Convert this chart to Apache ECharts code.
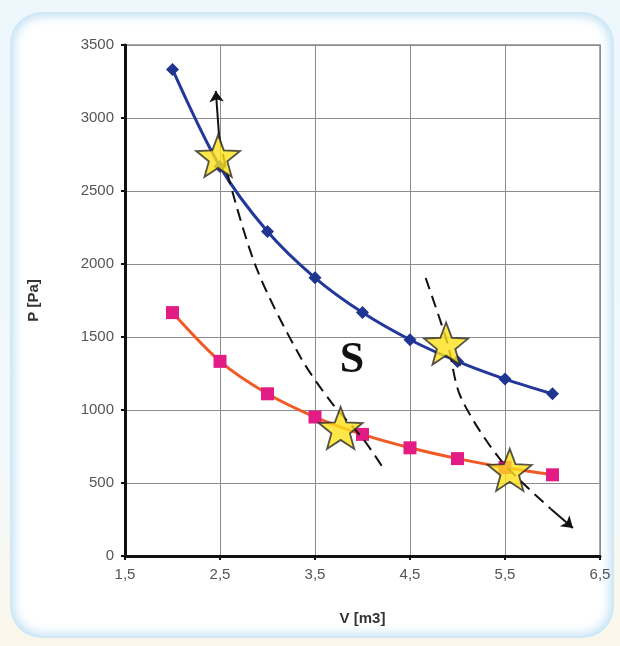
<!DOCTYPE html>
<html>
<head>
<meta charset="utf-8">
<script src="https://cdn.jsdelivr.net/npm/echarts@6/dist/echarts.min.js"></script>
<style>
  html, body { margin: 0; padding: 0; }
  body { width: 620px; height: 646px; position: relative; overflow: hidden;
         background: linear-gradient(180deg, #eef7fc 0%, #f2f8fb 70%, #fbf6ea 100%); }
  #panel { position: absolute; left: 10px; top: 12px; width: 604px; height: 626px;
           border-radius: 32px; background: #ffffff;
           box-shadow: inset 0 0 12px 3px #b5dcf2; }
  #chart { position: absolute; left: 0; top: 0; width: 620px; height: 646px; }
</style>
</head>
<body>
<div id="panel"></div>
<div id="chart"></div>
<script>
// ---- data ----
const volumes = [2, 2.5, 3, 3.5, 4, 4.5, 5, 5.5, 6];
const pressureHigh = [3333, 2667, 2222, 1905, 1667, 1481, 1333, 1212, 1111];
const pressureLow = [1667, 1333, 1111, 952, 833, 741, 667, 606, 556];
const starPoints = [[2.48, 2740], [3.77, 877], [4.88, 1455], [5.55, 590]];
const dashedCurve1 = [[2.49, 2880], [2.587, 2596], [2.892, 1959], [3.346, 1363],
                      [3.68, 1046], [4.014, 795], [4.208, 612]];
const dashedCurve2 = [[4.665, 1904], [4.894, 1459], [5.034, 1089], [5.456, 657], [5.983, 322]];
const arrowTop = [[2.49, 2880], [2.456, 3185]];
const arrowBottom = [[5.983, 322], [6.215, 192]];
const xTicks = ['1,5', '2,5', '3,5', '4,5', '5,5', '6,5'];
const annotationText = 'S';

const starPath = 'path://M50,0 L62.5,33 L97.55,34.55 L70,57 L79.39,90.45 L50,71 L20.61,90.45 L30,57 L2.45,34.55 L37.5,33 Z';

const chart = echarts.init(document.getElementById('chart'), null, { renderer: 'canvas' });

const labelFont = { color: '#555', fontSize: 15, fontFamily: 'Liberation Sans, Arial, sans-serif' };
const nameFont = { color: '#333', fontSize: 15, fontWeight: 'bold', fontFamily: 'Liberation Sans, Arial, sans-serif' };

chart.setOption({
  backgroundColor: 'transparent',
  animation: false,
  grid: { left: 125, right: 20, top: 45, bottom: 90, show: true, borderColor: '#8c8c8c', borderWidth: 1.5, backgroundColor: 'transparent' },
  xAxis: {
    type: 'value', min: 1.5, max: 6.5, interval: 1,
    name: 'V [m3]', nameLocation: 'middle', nameGap: 55,
    nameTextStyle: nameFont,
    axisLine: { lineStyle: { color: '#111', width: 3 } },
    axisTick: { show: true, length: 4, lineStyle: { color: '#111', width: 2 } },
    axisLabel: Object.assign({ margin: 11, formatter: function (v) { const i = Math.round(v - 1.5); return xTicks[i] !== undefined ? xTicks[i] : ''; } }, labelFont),
    splitLine: { show: true, lineStyle: { color: '#8c8c8c', width: 1 } }
  },
  yAxis: {
    type: 'value', min: 0, max: 3500, interval: 500,
    name: 'P [Pa]', nameLocation: 'middle', nameGap: 84, nameRotate: 90,
    nameTextStyle: nameFont,
    axisLine: { show: true, lineStyle: { color: '#111', width: 3 } },
    axisTick: { show: true, length: 4, lineStyle: { color: '#111', width: 2 } },
    axisLabel: Object.assign({ margin: 11, formatter: function (v) { return String(v); } }, labelFont),
    splitLine: { show: true, lineStyle: { color: '#8c8c8c', width: 1 } }
  },
  series: [
    {
      type: 'line', name: 'high', smooth: 0.3,
      data: volumes.map((v, i) => [v, pressureHigh[i]]),
      symbol: 'diamond', symbolSize: 13,
      itemStyle: { color: '#1f3590' },
      lineStyle: { color: '#23399a', width: 3 }, z: 3
    },
    {
      type: 'line', name: 'low', smooth: 0.3,
      data: volumes.map((v, i) => [v, pressureLow[i]]),
      symbol: 'rect', symbolSize: 13,
      itemStyle: { color: '#e31b84' },
      lineStyle: { color: '#f15a24', width: 3 }, z: 3
    },
    {
      type: 'line', smooth: 0.3, data: dashedCurve1, showSymbol: false, symbol: 'none',
      lineStyle: { color: '#111', width: 2, type: [12, 7] }, z: 4
    },
    {
      type: 'line', smooth: 0.3, data: dashedCurve2, showSymbol: false, symbol: 'none',
      lineStyle: { color: '#111', width: 2, type: [12, 7] }, z: 4
    },
    {
      type: 'lines', coordinateSystem: 'cartesian2d',
      symbol: ['none', 'arrow'], symbolSize: 11,
      lineStyle: { color: '#111', width: 2, opacity: 1 },
      data: [{ coords: arrowTop }, { coords: arrowBottom }], z: 5
    },
    {
      type: 'scatter', data: starPoints, symbol: starPath, symbolSize: [44, 42],
      itemStyle: { color: '#ffe11a', borderColor: '#2b2b2b', borderWidth: 1.8 }, z: 6
    }
  ],
  graphic: [
    { type: 'text', x: 352, y: 361, z: 10,
      style: { text: annotationText, fill: '#111', align: 'center', verticalAlign: 'middle',
               font: 'bold 44px "Liberation Serif", "DejaVu Serif", serif' } }
  ]
});
</script>
</body>
</html>
